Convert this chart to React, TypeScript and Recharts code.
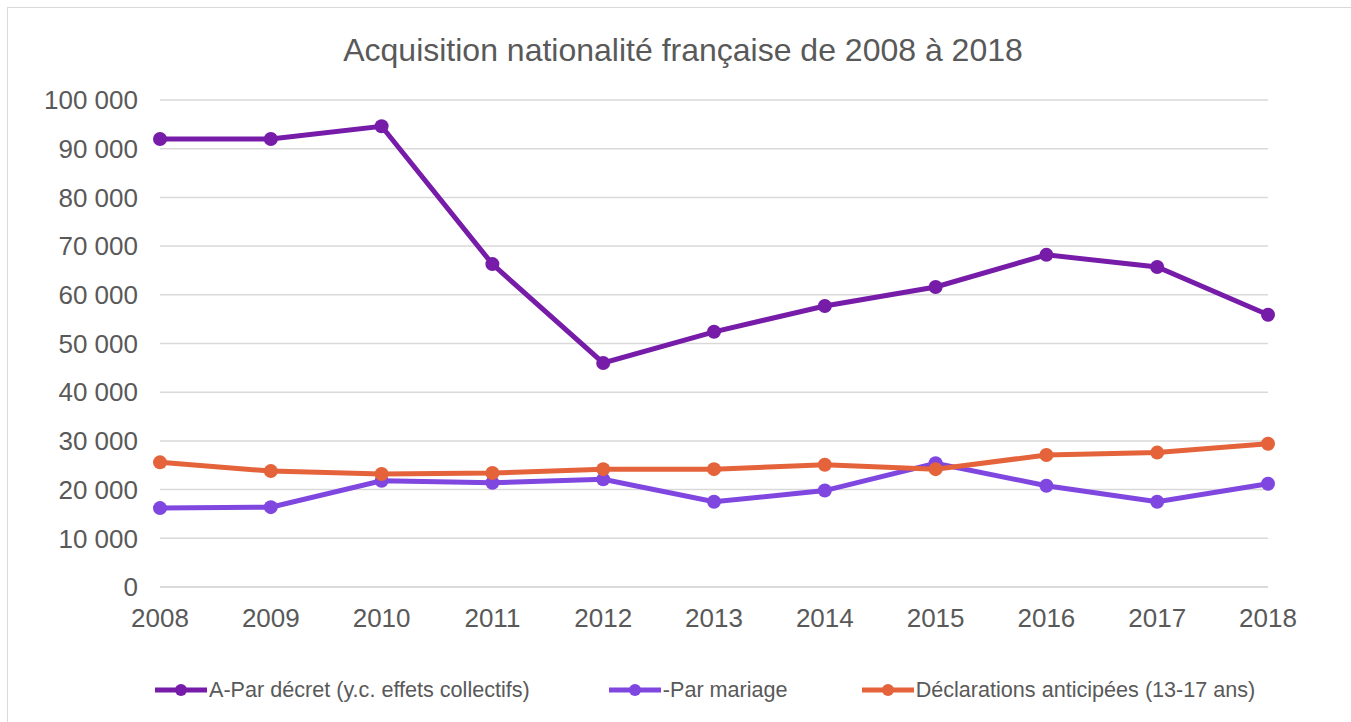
import React from 'react';
import { CartesianGrid, Legend, Line, LineChart, XAxis, YAxis } from 'recharts';

const years = ['2008', '2009', '2010', '2011', '2012', '2013', '2014', '2015', '2016', '2017', '2018'];
const parDecret = [92000, 92000, 94600, 66300, 46000, 52400, 57700, 61600, 68200, 65700, 55900];
const parMariage = [16200, 16400, 21800, 21400, 22100, 17500, 19800, 25400, 20800, 17500, 21200];
const declarations = [25600, 23800, 23200, 23400, 24200, 24200, 25100, 24200, 27100, 27600, 29400];
const yTicks = [0, 10000, 20000, 30000, 40000, 50000, 60000, 70000, 80000, 90000, 100000];

const series = [
  { key: 'decret', name: 'A-Par décret (y.c. effets collectifs)', color: '#761ca8' },
  { key: 'mariage', name: '-Par mariage', color: '#7f46e0' },
  { key: 'declarations', name: 'Déclarations anticipées (13-17 ans)', color: '#e4633b' },
];

const data = years.map((year, i) => ({
  year,
  decret: parDecret[i],
  mariage: parMariage[i],
  declarations: declarations[i],
}));

const FONT = '"Liberation Sans", Arial, sans-serif';
const TEXT = '#595959';

const formatThousands = (v: number) => String(v).replace(/\B(?=(\d{3})+(?!\d))/g, ' ');

function LegendContent() {
  return (
    <div style={{ display: 'flex', alignItems: 'center', height: 30, paddingLeft: 147, fontFamily: FONT }}>
      {series.map((s, i) => (
        <div key={s.key} style={{ display: 'flex', alignItems: 'center', marginRight: i === 0 ? 79 : 74 }}>
          <svg width={52} height={16}>
            <line x1={0} y1={8} x2={52} y2={8} stroke={s.color} strokeWidth={5} />
            <circle cx={26} cy={8} r={6} fill={s.color} />
          </svg>
          <span style={{ fontSize: 21.6, color: TEXT, marginLeft: 2, whiteSpace: 'nowrap' }}>{s.name}</span>
        </div>
      ))}
    </div>
  );
}

export default function App() {
  return (
    <div style={{ position: 'fixed', inset: 0, overflow: 'hidden', background: '#fff' }}>
      <div
        style={{
          position: 'absolute',
          left: 7,
          top: 7,
          width: 1400,
          height: 760,
          border: '1px solid #d9d9d9',
          fontFamily: FONT,
        }}
      >
        <div
          style={{
            position: 'absolute',
            left: 0,
            top: 24,
            width: 1350,
            textAlign: 'center',
            fontSize: 32,
            lineHeight: '36px',
            color: TEXT,
          }}
        >
          Acquisition nationalité française de 2008 à 2018
        </div>
        <LineChart width={1344} height={714} data={data} margin={{ top: 92, right: 84, left: 0, bottom: 65 }}>
          <CartesianGrid vertical={false} stroke="#d9d9d9" strokeWidth={1.5} />
          <XAxis
            dataKey="year"
            axisLine={{ stroke: '#d9d9d9', strokeWidth: 1.5 }}
            tickLine={false}
            tickSize={6}
            tickMargin={16}
            tick={{ fontSize: 26, fill: TEXT, fontFamily: FONT }}
            height={40}
          />
          <YAxis
            width={152}
            domain={[0, 100000]}
            ticks={yTicks}
            interval={0}
            tickFormatter={formatThousands}
            axisLine={false}
            tickLine={false}
            tickSize={6}
            tickMargin={16}
            tick={{ fontSize: 26, fill: TEXT, fontFamily: FONT }}
          />
          <Legend
            content={<LegendContent />}
            wrapperStyle={{ top: 667, left: 0, bottom: 'auto', width: 1344, height: 30 }}
          />
          {series.map((s) => (
            <Line
              key={s.key}
              type="linear"
              dataKey={s.key}
              name={s.name}
              stroke={s.color}
              strokeWidth={5}
              dot={{ r: 7, fill: s.color, stroke: s.color, strokeWidth: 0 }}
              activeDot={false}
              isAnimationActive={false}
            />
          ))}
        </LineChart>
      </div>
    </div>
  );
}
